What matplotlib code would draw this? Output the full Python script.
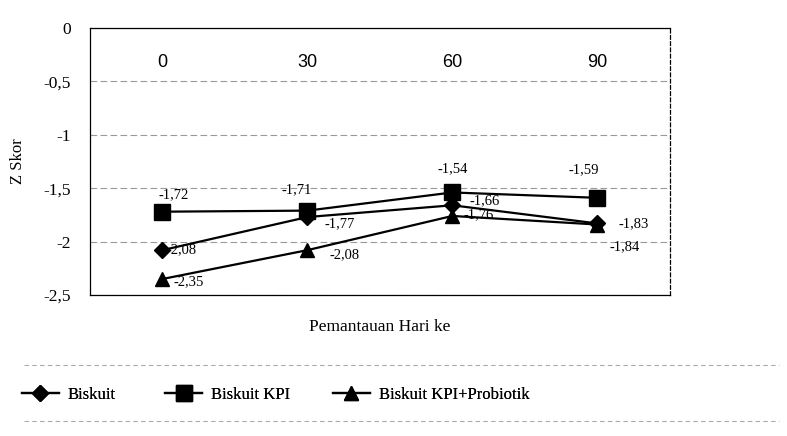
import matplotlib.pyplot as plt
from matplotlib.lines import Line2D

days = ['0', '30', '60', '90']
biskuit = [-2.08, -1.77, -1.66, -1.83]
biskuit_kpi = [-1.72, -1.71, -1.54, -1.59]
biskuit_kpi_pro = [-2.35, -2.08, -1.76, -1.84]
series_names = ['Biskuit', 'Biskuit KPI', 'Biskuit KPI+Probiotik']

serif = 'Liberation Serif'


def fmt(v):
    return f'{v:.2f}'.replace('.', ',')


fig = plt.figure(figsize=(7.87, 4.36), dpi=100)
ax = fig.add_axes([0.1144, 0.3234, 0.7366, 0.6124])

x = range(len(days))
styles = [
    (biskuit, 'D', 8, [(3, 0, 'left'), (12, -5, 'left'), (12, 3, 'left'), (15, 0, 'left')]),
    (biskuit_kpi, 's', 11, [(8, 12, 'center'), (-8, 15, 'center'), (0, 17, 'center'), (-10, 20, 'center')]),
    (biskuit_kpi_pro, '^', 10, [(8, -2, 'left'), (16, -3, 'left'), (8, 1, 'left'), (20, -16, 'center')]),
]
handles = []
for (vals, mk, ms, offs), name in zip(styles, series_names):
    h, = ax.plot(x, vals, color='black', lw=1.6, marker=mk, ms=ms, label=name)
    handles.append(h)
    for xi, v, (dx, dy, ha) in zip(x, vals, offs):
        ax.annotate(fmt(v), (xi, v), xytext=(dx, dy), textcoords='offset points',
                    ha=ha, va='center', fontsize=10.5, family=serif)

ax.set_xlim(-0.5, len(days) - 0.5)
ax.set_ylim(-2.5, 0)
ax.set_yticks([0, -0.5, -1, -1.5, -2, -2.5])
ax.set_yticklabels(['0', '-0,5', '-1', '-1,5', '-2', '-2,5'], fontsize=12.5, family=serif)
ax.tick_params(axis='y', length=0, pad=14)
ax.yaxis.grid(True, color='#999999', ls=(0, (6, 3)), lw=0.8)

ax.set_xticks(list(x))
ax.set_xticklabels(days, fontsize=13, family='Liberation Sans')
ax.tick_params(axis='x', bottom=False, labelbottom=False, top=False, labeltop=True,
               length=0, pad=-31)

for s in ax.spines.values():
    s.set_linewidth(0.9)
ax.spines['bottom'].set_linestyle((0, (2, 1)))
ax.spines['right'].set_linestyle((0, (3, 2)))

ax.set_ylabel('Z Skor', fontsize=12, family=serif, labelpad=12)
ax.set_xlabel('Pemantauan Hari ke', fontsize=12.5, family=serif, labelpad=17)

# one legend per entry, placed like the original
leg_x = [0.028, 0.21, 0.423]
for h, lx in zip(handles, leg_x):
    leg = fig.legend(handles=[h], loc='center left', bbox_to_anchor=(lx, 0.094),
                     frameon=False, prop={'family': serif, 'size': 12},
                     handlelength=2.2, handletextpad=0.55, borderpad=0, borderaxespad=0)
    fig.add_artist(leg)

fig.add_artist(Line2D([0.03, 0.99], [0.163, 0.163], color='#aaaaaa', lw=0.8, ls=(0, (4, 3))))
fig.add_artist(Line2D([0.03, 0.99], [0.035, 0.035], color='#aaaaaa', lw=0.8, ls=(0, (4, 3))))

fig.savefig('out.png', dpi=100)
